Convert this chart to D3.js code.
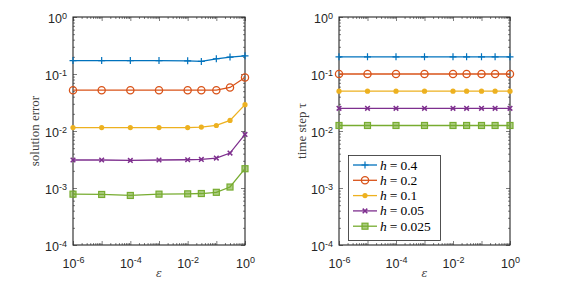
<!DOCTYPE html>
<html>
<head>
<meta charset="utf-8">
<script src="https://cdn.jsdelivr.net/npm/d3@7"></script>
<style>
  body { margin:0; background:#fff; }
  svg { display:block; }
  .tick text { font-family:"Liberation Sans", Arial, sans-serif; }
</style>
</head>
<body>
<svg id="chart" width="567" height="284"></svg>
<script>
// ---------------------------------------
// data
// ---------------------------------------
var epsValues = [1e-6, 1e-5, 1e-4, 1e-3, 1e-2, 3e-2, 1e-1, 3e-1, 1];
var hLabels   = ["0.4", "0.2", "0.1", "0.05", "0.025"];

var err_h0400 = [0.172, 0.172, 0.172, 0.172, 0.170, 0.166, 0.185, 0.198, 0.208];
var err_h0200 = [0.052, 0.052, 0.052, 0.052, 0.052, 0.052, 0.052, 0.058, 0.087];
var err_h0100 = [0.0115, 0.0115, 0.0115, 0.0115, 0.0115, 0.0117, 0.0125, 0.0153, 0.029];
var err_h0050 = [0.0031, 0.0031, 0.00305, 0.0031, 0.00313, 0.00317, 0.00335, 0.0041, 0.0087];
var err_h0025 = [0.00078, 0.00077, 0.00074, 0.00078, 0.00079, 0.0008, 0.00084, 0.00104, 0.00218];

var tau_h0400 = [0.2, 0.2, 0.2, 0.2, 0.2, 0.2, 0.2, 0.2, 0.2];
var tau_h0200 = [0.1, 0.1, 0.1, 0.1, 0.1, 0.1, 0.1, 0.1, 0.1];
var tau_h0100 = [0.05, 0.05, 0.05, 0.05, 0.05, 0.05, 0.05, 0.05, 0.05];
var tau_h0050 = [0.025, 0.025, 0.025, 0.025, 0.025, 0.025, 0.025, 0.025, 0.025];
var tau_h0025 = [0.0125, 0.0125, 0.0125, 0.0125, 0.0125, 0.0125, 0.0125, 0.0125, 0.0125];

var xTickExp = [-6, -4, -2, 0];
var yTickExp = [-4, -3, -2, -1, 0];

// matlab default colour order and markers
var colors  = ["#0072BD", "#D95319", "#EDB120", "#7E2F8E", "#77AC30"];
var markers = ["plus", "circle", "dot", "cross", "square"];

var svg = d3.select("#chart");

// minor tick values for a log decade range
function minorTicks(e0, e1){
	var t = [];
	for (var e = e0; e < e1; e++){
		for (var k = 2; k <= 9; k++) t.push(k * Math.pow(10, e));
	}
	return t;
}

function drawMarker(g, type, x, y, color){
	if (type == "plus"){
		g.append("path").attr("d", "M"+(x-3.5)+","+y+"h7M"+x+","+(y-3.5)+"v7")
			.attr("stroke", color).attr("stroke-width", 1.2).attr("fill", "none");
	} else if (type == "circle"){
		g.append("circle").attr("cx", x).attr("cy", y).attr("r", 3.6)
			.attr("stroke", color).attr("stroke-width", 1.3).attr("fill", "none");
	} else if (type == "dot"){
		g.append("circle").attr("cx", x).attr("cy", y).attr("r", 2.6)
			.attr("fill", color);
	} else if (type == "cross"){
		g.append("path").attr("d", "M"+(x-2.3)+","+(y-2.3)+"l4.6,4.6M"+(x-2.3)+","+(y+2.3)+"l4.6,-4.6")
			.attr("stroke", color).attr("stroke-width", 1.5).attr("fill", "none");
	} else if (type == "square"){
		g.append("rect").attr("x", x-3).attr("y", y-3).attr("width", 6).attr("height", 6)
			.attr("stroke", color).attr("stroke-width", 1.2).attr("fill", color).attr("fill-opacity", 0.6);
	}
}

// power-of-ten label with superscript exponent
function powLabel(sel, e){
	sel.text(null);
	sel.append("tspan").text("10");
	sel.append("tspan").attr("dy", "-0.5em").attr("font-size", "9px").text(e);
}

function drawPanel(opts){
	var x = d3.scaleLog().domain([1e-6, 1]).range([opts.left, opts.right]);
	var y = d3.scaleLog().domain([1e-4, 1]).range([opts.bottom, opts.top]);
	var g = svg.append("g");
	var axisColor = "#262626";

	// minor ticks, all four sides
	var mx = minorTicks(-6, 0), my = minorTicks(-4, 0);
	g.append("g").attr("transform", "translate(0,"+opts.bottom+")")
		.call(d3.axisBottom(x).tickValues(mx).tickSize(-2).tickFormat(""));
	g.append("g").attr("transform", "translate(0,"+opts.top+")")
		.call(d3.axisTop(x).tickValues(mx).tickSize(-2).tickFormat(""));
	g.append("g").attr("transform", "translate("+opts.left+",0)")
		.call(d3.axisLeft(y).tickValues(my).tickSize(-2).tickFormat(""));
	g.append("g").attr("transform", "translate("+opts.right+",0)")
		.call(d3.axisRight(y).tickValues(my).tickSize(-2).tickFormat(""));

	// major ticks
	var xMajor = d3.range(-6, 1).map(function(e){ return Math.pow(10, e); });
	var yMajor = yTickExp.map(function(e){ return Math.pow(10, e); });
	var xb = g.append("g").attr("transform", "translate(0,"+opts.bottom+")")
		.call(d3.axisBottom(x).tickValues(xMajor).tickSize(-4).tickPadding(9)
			.tickFormat(function(d){ return ""; }));
	g.append("g").attr("transform", "translate(0,"+opts.top+")")
		.call(d3.axisTop(x).tickValues(xMajor).tickSize(-4).tickFormat(""));
	var yl = g.append("g").attr("transform", "translate("+opts.left+",0)")
		.call(d3.axisLeft(y).tickValues(yMajor).tickSize(-4).tickPadding(6)
			.tickFormat(function(d){ return ""; }));
	g.append("g").attr("transform", "translate("+opts.right+",0)")
		.call(d3.axisRight(y).tickValues(yMajor).tickSize(-4).tickFormat(""));

	xb.selectAll(".tick text").each(function(d){
		var e = Math.round(Math.log10(d));
		if (xTickExp.indexOf(e) >= 0) powLabel(d3.select(this), e);
	}).attr("dy", "1.1em");
	yl.selectAll(".tick text").each(function(d){
		powLabel(d3.select(this), Math.round(Math.log10(d)));
	}).attr("dy", "0.45em");

	g.selectAll(".tick text").attr("fill", axisColor).attr("font-size", "12.5px");
	g.selectAll(".tick line").attr("stroke", axisColor).attr("stroke-width", 0.6);
	g.selectAll(".domain").remove();

	// box
	g.append("rect").attr("x", opts.left).attr("y", opts.top)
		.attr("width", opts.right - opts.left).attr("height", opts.bottom - opts.top)
		.attr("fill", "none").attr("stroke", axisColor).attr("stroke-width", 1.1);

	// series
	var line = d3.line().x(function(d){ return x(d[0]); }).y(function(d){ return y(d[1]); });
	opts.series.forEach(function(vals, i){
		var pts = epsValues.map(function(e, j){ return [e, vals[j]]; });
		g.append("path").datum(pts).attr("d", line)
			.attr("fill", "none").attr("stroke", colors[i]).attr("stroke-width", 1.3);
		pts.forEach(function(p){ drawMarker(g, markers[i], x(p[0]), y(p[1]), colors[i]); });
	});

	// labels
	g.append("text").attr("x", (opts.left + opts.right)/2).attr("y", 277)
		.attr("text-anchor", "middle").attr("font-family", "'DejaVu Serif', serif")
		.attr("font-style", "italic").attr("font-size", "11px").attr("fill", "#404040").text("\u03b5");
	g.append("text").attr("transform", "translate("+opts.ylabX+","+((opts.top+opts.bottom)/2)+") rotate(-90)")
		.attr("text-anchor", "middle").attr("font-family", "'Liberation Serif', 'Times New Roman', serif")
		.attr("font-size", "13px").attr("fill", "#404040").text(opts.ylabel);

	return g;
}

drawPanel({left:73, right:245, top:17, bottom:245, ylabX:39, ylabel:"solution error",
	series:[err_h0400, err_h0200, err_h0100, err_h0050, err_h0025]});

var g2 = drawPanel({left:339, right:510, top:17, bottom:245, ylabX:306, ylabel:"time step \u03c4",
	series:[tau_h0400, tau_h0200, tau_h0100, tau_h0050, tau_h0025]});

// legend
var leg = g2.append("g");
leg.append("rect").attr("x", 348.5).attr("y", 155.5).attr("width", 92).attr("height", 85)
	.attr("fill", "#fff").attr("stroke", "#262626").attr("stroke-width", 0.8);
hLabels.forEach(function(h, i){
	var ly = 165 + i * 15.3;
	leg.append("line").attr("x1", 353).attr("x2", 377).attr("y1", ly).attr("y2", ly)
		.attr("stroke", colors[i]).attr("stroke-width", 1.3);
	drawMarker(leg, markers[i], 365, ly, colors[i]);
	var t = leg.append("text").attr("x", 380).attr("y", ly + 4.5)
		.attr("font-family", "'Liberation Serif', 'Times New Roman', serif").attr("font-size", "13.5px").attr("fill", "#000");
	t.append("tspan").attr("font-style", "italic").text("h");
	t.append("tspan").attr("dx", 3).text("=");
	t.append("tspan").attr("dx", 3).text(h);
});
</script>
</body>
</html>
